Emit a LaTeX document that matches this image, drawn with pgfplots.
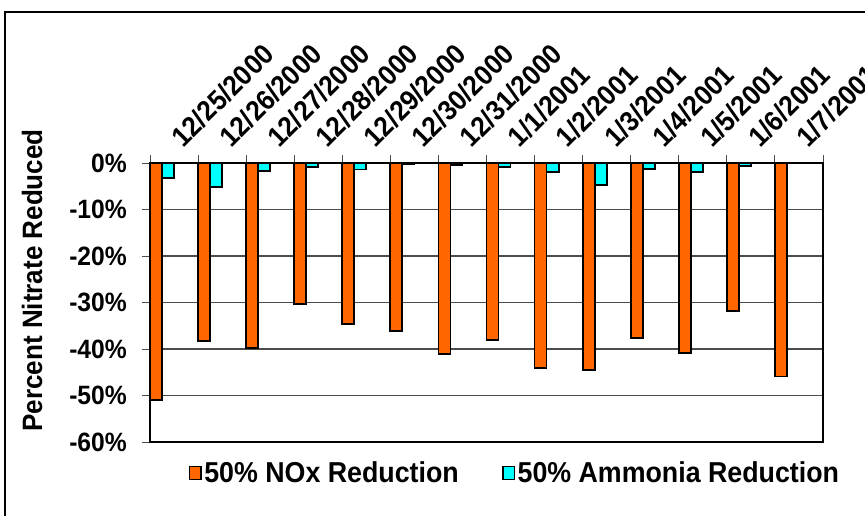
\documentclass[border=0pt]{standalone}
\usepackage{pgfplots}
\usepackage{pgfplotstable}
\pgfplotsset{compat=1.18}
\usepackage{fontspec}
\setmainfont{Liberation Sans}[FakeStretch=0.93]

\definecolor{noxorange}{RGB}{255,102,0}
\definecolor{nhcyan}{RGB}{0,255,255}

% Daily percent change in nitrate for the two emission cases
\pgfplotstableread{
idx nox nh3
0  -50.9 -3.2
1  -38.2 -5.2
2  -39.7 -1.8
3  -30.3 -0.9
4  -34.6 -1.4
5  -36.2 -0.3
6  -41.0 -0.4
7  -38.0 -0.8
8  -44.1 -2.0
9  -44.6 -4.8
10 -37.6 -1.3
11 -40.8 -2.0
12 -31.9 -0.6
13 -45.9 0
}\nitrate

\begin{document}
\begin{tikzpicture}[x=1bp,y=1bp]
\begin{axis}[
  at={(150bp,-442bp)}, anchor=south west,
  width=673bp, height=279bp, scale only axis,
  xmin=-0.5, xmax=13.5, ymin=-60, ymax=0,
  axis line style={line width=2.4bp},
  tick align=outside,
  xtick pos=upper, xticklabel pos=upper,
  ytick pos=lower,
  xtick={0,...,13},
  xticklabels={12/25/2000,12/26/2000,12/27/2000,12/28/2000,12/29/2000,12/30/2000,12/31/2000,1/1/2001,1/2/2001,1/3/2001,1/4/2001,1/5/2001,1/6/2001,1/7/2001},
  minor xtick={-0.5,0.5,...,13.5},
  major x tick style={draw=none},
  minor tick length=8bp,
  major tick length=8bp,
  minor x tick style={black!70, line width=1bp},
  major y tick style={black!70, line width=1bp},
  xticklabel style={rotate=45, anchor=base west, inner sep=0pt, xshift=11bp, yshift=-2bp,
    font=\fontsize{28bp}{30bp}\selectfont\bfseries},
  ytick={-60,-50,-40,-30,-20,-10,0},
  yticklabels={-60\%,-50\%,-40\%,-30\%,-20\%,-10\%,0\%},
  yticklabel style={anchor=east, inner sep=0pt, xshift=-15bp,
    font=\fontsize{26.5bp}{29bp}\selectfont\bfseries},
  ymajorgrids,
  major grid style={black!70, line width=1.2bp},
  ylabel={Percent Nitrate Reduced},
  ylabel style={at={(axis description cs:-0.175,0.579)}, anchor=center,
    font=\fontsize{28bp}{30bp}\selectfont\bfseries},
  ybar, bar width=0.25,
  legend columns=2,
  legend style={at={(axis description cs:0.0577,-0.111)}, anchor=west,
    draw=none, fill=none, inner sep=0pt,
    font=\fontsize{28.8bp}{31bp}\selectfont\bfseries,
    nodes={inner sep=2.5bp},
    /tikz/every even column/.append style={column sep=41bp}},
  legend image code/.code={\draw[#1, line width=1.4bp] (0bp,-6.5bp) rectangle (11.4bp,6.5bp);},
]
\addplot[fill=noxorange, draw=black, line width=1.8bp, bar shift=0pt]
  table[x expr=\thisrow{idx}-0.375, y=nox]{\nitrate};
\addlegendentry{50\% NOx Reduction}
\addplot[fill=nhcyan, draw=black, line width=1.8bp, bar shift=0pt]
  table[x expr=\thisrow{idx}-0.125, y=nh3]{\nitrate};
\addlegendentry{50\% Ammonia Reduction}
\end{axis}
% chart frame
\draw[line width=2bp] (5bp,-540bp) -- (5bp,-11.5bp) -- (890bp,-11.5bp);
\pgfresetboundingbox
\useasboundingbox (0,0) rectangle (865bp,-516bp);
\end{tikzpicture}
\end{document}
